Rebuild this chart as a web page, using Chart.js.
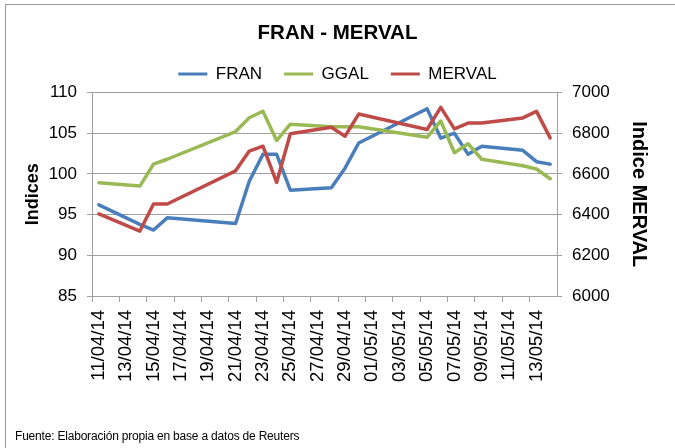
<!DOCTYPE html>
<html>
<head>
<meta charset="utf-8">
<script src="https://cdn.jsdelivr.net/npm/chart.js@4.4.1/dist/chart.umd.min.js"></script>
<style>
  html, body { margin: 0; padding: 0; background: #fff; }
  #wrap { position: relative; width: 675px; height: 448px; overflow: hidden; }
  #marco { position: absolute; left: 5px; top: 4px; right: -10px; bottom: -10px;
           border-left: 1px solid #9a9a9a; border-top: 1px solid #9a9a9a; pointer-events: none; }
  #fuente { position: absolute; left: 15px; top: 429px; color: #000; letter-spacing: -0.2px;
            font: 12px "Liberation Sans", Arial, sans-serif; }
</style>
</head>
<body>
<div id="wrap">
  <canvas id="grafico" width="675" height="448"></canvas>
  <div id="marco"></div>
  <div id="fuente">Fuente: Elaboración propia en base a datos de Reuters</div>
</div>
<script>
// Eje de fechas (un casillero por día, etiqueta cada dos días)
const fechas = [
  "11/04/14", "12/04/14", "13/04/14", "14/04/14", "15/04/14", "16/04/14",
  "17/04/14", "18/04/14", "19/04/14", "20/04/14", "21/04/14", "22/04/14",
  "23/04/14", "24/04/14", "25/04/14", "26/04/14", "27/04/14", "28/04/14",
  "29/04/14", "30/04/14", "01/05/14", "02/05/14", "03/05/14", "04/05/14",
  "05/05/14", "06/05/14", "07/05/14", "08/05/14", "09/05/14", "10/05/14",
  "11/05/14", "12/05/14", "13/05/14", "14/05/14",
];

// Ruedas con cotización
const diasHabiles = [
  "11/04/14", "14/04/14", "15/04/14", "16/04/14", "21/04/14", "22/04/14",
  "23/04/14", "24/04/14", "25/04/14", "28/04/14", "29/04/14", "30/04/14",
  "05/05/14", "06/05/14", "07/05/14", "08/05/14", "09/05/14", "12/05/14",
  "13/05/14", "14/05/14",
];

const fran = [
  96.2, 93.8, 93.1, 94.6, 93.9, 99.1, 102.4, 102.4, 98.0, 98.3,
  100.7, 103.8, 108.0, 104.4, 105.0, 102.4, 103.4, 102.9, 101.5, 101.2,
];
const ggal = [
  98.9, 98.5, 101.2, 101.8, 105.2, 106.9, 107.7, 104.1, 106.1, 105.8,
  105.8, 105.8, 104.5, 106.5, 102.6, 103.7, 101.8, 101.0, 100.6, 99.4,
];
const merval = [
  6403, 6319, 6452, 6452, 6615, 6712, 6736, 6558, 6797, 6829,
  6785, 6894, 6818, 6927, 6821, 6850, 6850, 6875, 6907, 6777,
];

const FUENTE = '"Liberation Sans", Arial, sans-serif';
const gris = "#a0a0a0";

function serie(valores) {
  return diasHabiles.map((d, i) => ({ x: d, y: valores[i] }));
}

const ctx = document.getElementById("grafico").getContext("2d");

new Chart(ctx, {
  type: "line",
  data: {
    labels: fechas,
    datasets: [
      {
        label: "FRAN",
        data: serie(fran),
        borderColor: "#4a7ebb",
        backgroundColor: "#4a7ebb",
        yAxisID: "y",
        order: 2,
      },
      {
        label: "GGAL",
        data: serie(ggal),
        borderColor: "#98b954",
        backgroundColor: "#98b954",
        yAxisID: "y",
        order: 1,
      },
      {
        label: "MERVAL",
        data: serie(merval),
        borderColor: "#be4b48",
        backgroundColor: "#be4b48",
        yAxisID: "y1",
        order: 0,
      },
    ],
  },
  options: {
    responsive: false,
    animation: false,
    layout: { padding: 0 },
    elements: {
      line: { borderWidth: 3.5, tension: 0, borderJoinStyle: "round", borderCapStyle: "round" },
      point: { radius: 0, hoverRadius: 0 },
    },
    plugins: {
      title: {
        display: true,
        text: "FRAN - MERVAL",
        color: "#000",
        font: { family: FUENTE, size: 20.5, weight: "bold", lineHeight: 1 },
        padding: { top: 23, bottom: 0 },
      },
      legend: {
        position: "top",
        labels: {
          color: "#000",
          font: { family: FUENTE, size: 17 },
          boxWidth: 29,
          boxHeight: 3,
          padding: 22,
          sort: (a, b) => a.datasetIndex - b.datasetIndex,
          generateLabels: (chart) =>
            Chart.defaults.plugins.legend.labels
              .generateLabels(chart)
              .map((it) => ({ ...it, lineWidth: 0 })),
        },
      },
      tooltip: { enabled: false },
    },
    scales: {
      x: {
        type: "category",
        offset: true,
        grid: {
          offset: true,
          drawOnChartArea: false,
          tickLength: 6,
          color: (c) => (c.index !== undefined && c.index % 2 === 0 ? gris : "rgba(0,0,0,0)"),
        },
        border: { color: gris },
        ticks: {
          autoSkip: false,
          minRotation: 90,
          maxRotation: 90,
          padding: 8,
          color: "#000",
          font: { family: FUENTE, size: 18.5 },
          callback: function (val, i) {
            return i % 2 === 0 ? this.getLabelForValue(val) : "";
          },
        },
        afterFit: (s) => {
          s.height = 152;
        },
      },
      y: {
        position: "left",
        min: 85,
        max: 110,
        ticks: {
          stepSize: 5,
          padding: 10,
          color: "#000",
          font: { family: FUENTE, size: 17 },
        },
        grid: { color: gris, tickLength: 5 },
        border: { color: gris },
        title: {
          display: true,
          text: "Indices",
          color: "#000",
          font: { family: FUENTE, size: 18, weight: "bold" },
          padding: { top: 22, bottom: 0 },
        },
        afterFit: (s) => {
          s.width = 92;
        },
      },
      y1: {
        position: "right",
        min: 6000,
        max: 7000,
        ticks: {
          stepSize: 100,
          padding: 10,
          color: "#000",
          font: { family: FUENTE, size: 17 },
          callback: (v) => String(v),
        },
        grid: { drawOnChartArea: false, color: gris, tickLength: 5 },
        border: { color: gris },
        title: {
          display: true,
          text: "Indice MERVAL",
          color: "#000",
          font: { family: FUENTE, size: 20, weight: "bold" },
          padding: { top: 24, bottom: 0 },
        },
        afterFit: (s) => {
          s.width = 118;
        },
      },
    },
  },
});
</script>
</body>
</html>
